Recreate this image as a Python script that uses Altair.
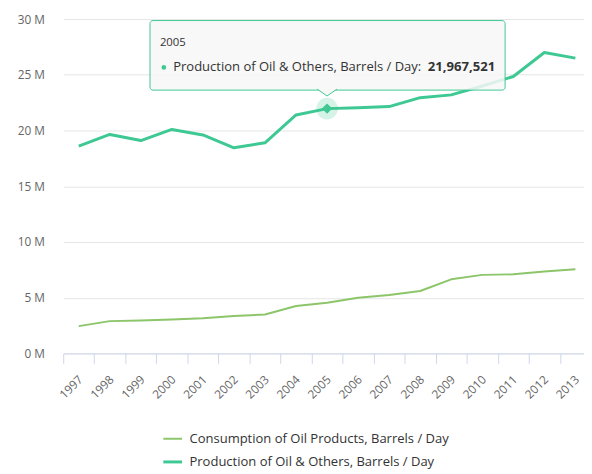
import altair as alt
import pandas as pd

years = [str(y) for y in range(1997, 2014)]
production = [18.6e6, 19.65e6, 19.1e6, 20.1e6, 19.6e6, 18.45e6, 18.9e6, 21.4e6, 21967521,
              22.05e6, 22.15e6, 22.95e6, 23.2e6, 24.0e6, 24.85e6, 27.0e6, 26.5e6]
consumption = [2.45e6, 2.9e6, 2.95e6, 3.05e6, 3.15e6, 3.35e6, 3.5e6, 4.25e6, 4.55e6,
               5.0e6, 5.25e6, 5.6e6, 6.65e6, 7.05e6, 7.1e6, 7.35e6, 7.55e6]
series_names = ["Consumption of Oil Products, Barrels / Day",
                "Production of Oil & Others, Barrels / Day"]
series_colors = ["#8cc56a", "#3ec893"]
y_ticks = [0, 5e6, 10e6, 15e6, 20e6, 25e6, 30e6]
hl_year = "2005"

rows = []
for i, yr in enumerate(years):
    rows.append({"year": yr, "series": series_names[0], "value": consumption[i]})
    rows.append({"year": yr, "series": series_names[1], "value": production[i]})
df = pd.DataFrame(rows)
hl = df[(df.year == hl_year) & (df.series == series_names[1])].copy()
hl["label"] = series_names[1] + ": "
hl["valtxt"] = hl["value"].map(lambda v: f"{int(v):,}")

teal = series_colors[1]
x_scale = alt.Scale(type="band", domain=years, paddingInner=0, paddingOuter=0)
y_scale = alt.Scale(domain=[0, 30e6], nice=False)

x_enc = alt.X("year:O", scale=x_scale, bandPosition=0.5,
              axis=alt.Axis(title=None, labelAngle=-45, labelAlign="right", labelBaseline="middle",
                            tickBand="extent", tickSize=10, domainColor="#ccd6eb", tickColor="#ccd6eb",
                            labelColor="#666666", labelFontSize=12, labelPadding=14, labelOffset=1.5,
                            grid=False))
y_enc = alt.Y("value:Q", scale=y_scale,
              axis=alt.Axis(title=None, values=y_ticks,
                            labelExpr="format(datum.value/1e6,'d') + ' M'",
                            domain=False, ticks=False, gridColor="#e6e6e6", labelPadding=19,
                            labelColor="#666666", labelFontSize=12))

lines = alt.Chart(df).mark_line(strokeJoin="round").encode(
    x=x_enc, y=y_enc,
    color=alt.Color("series:N", scale=alt.Scale(domain=series_names, range=series_colors),
                    legend=alt.Legend(title=None, orient="none", legendX=100, legendY=415,
                                      direction="vertical", symbolType="stroke", symbolSize=361,
                                      symbolStrokeWidth=2.5, labelFontSize=13.2, labelColor="#333333",
                                      rowPadding=6, labelOffset=6, labelLimit=400)),
    strokeWidth=alt.StrokeWidth("series:N", scale=alt.Scale(domain=series_names, range=[2, 3]), legend=None),
)

xh = alt.X("year:O", scale=x_scale, bandPosition=0.5)
yh = alt.Y("value:Q", scale=y_scale)

halo = alt.Chart(hl).mark_point(shape="circle", filled=True, size=480, color=teal, opacity=0.22).encode(x=xh, y=yh)
diamond = alt.Chart(hl).mark_point(shape="diamond", filled=True, size=110, color=teal, opacity=1).encode(x=xh, y=yh)

box = alt.Chart(hl).mark_rect(fill="#f7f7f7", fillOpacity=0.85, stroke=teal, strokeWidth=1, cornerRadius=3).encode(
    x=alt.value(88), x2=alt.value(448), y=alt.value(1.5), y2=alt.value(72))
pointer = alt.Chart(hl).mark_point(shape="M -1 -0.1 L 0 0.6 L 1 -0.1", fill="#f7f7f7", fillOpacity=1,
                                   stroke=teal, strokeWidth=1, size=400, opacity=1).encode(
    x=xh, y=alt.value(72))
t_year = alt.Chart(hl).mark_text(align="left", baseline="middle", fontSize=11.5, color="#333333").encode(
    x=alt.value(98), y=alt.value(24), text="year:N")
dot = alt.Chart(hl).mark_point(shape="circle", filled=True, size=22, color=teal, opacity=1).encode(
    x=alt.value(102), y=alt.value(49))
t_label = alt.Chart(hl).mark_text(align="left", baseline="middle", fontSize=13.2, color="#333333").encode(
    x=alt.value(111.5), y=alt.value(49), text="label:N")
t_val = alt.Chart(hl).mark_text(align="right", baseline="middle", fontSize=13.3, fontWeight="bold",
                                color="#333333").encode(
    x=alt.value(438), y=alt.value(49), text="valtxt:N")

chart = alt.layer(lines, halo, diamond, box, pointer, t_year, dot, t_label, t_val).properties(
    width=535, height=339,
    autosize=alt.AutoSizeParams(type="none"),
    padding={"left": 56, "top": 8, "right": -7, "bottom": 119},
).configure(font="Open Sans").configure_view(stroke=None)

chart.save("out.html", embed_options={"renderer": "svg", "actions": False})
